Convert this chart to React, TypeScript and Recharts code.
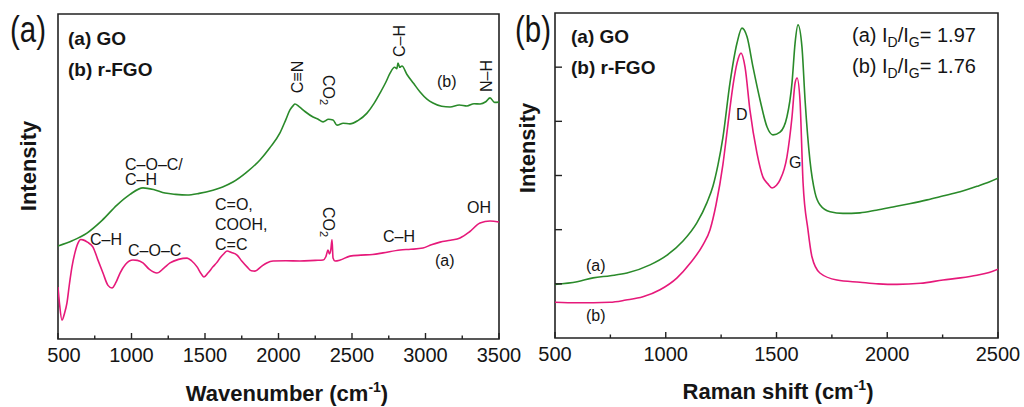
import React from "react";
import { LineChart, Line, XAxis, YAxis, ReferenceArea } from "recharts";

const FONT = '"Liberation Sans", Arial, Helvetica, sans-serif';
const GREEN = "#2a8a2a";
const PINK = "#e6197a";
const AXIS = "#222222";
const TEXT = "#151515";

// (a) FTIR, GO
const ftirGoWavenumber = [
  500, 510, 527, 545, 561, 578, 595, 615, 636, 655, 670, 700, 738, 770, 806, 840, 867, 895, 922, 960,
  1010, 1040, 1078, 1120, 1173, 1220, 1262, 1320, 1378, 1410, 1446, 1475, 1493, 1520, 1554, 1580, 1602,
  1630, 1650, 1680, 1718, 1750, 1786, 1815, 1840, 1880, 1920, 1963, 2050, 2146, 2250, 2303, 2322, 2337,
  2346, 2356, 2364, 2371, 2384, 2420, 2486, 2560, 2640, 2711, 2827, 2900, 2983, 3040, 3099, 3170, 3235,
  3300, 3371, 3439, 3500,
];
const ftirGoIntensity = [
  16.0, 11.0, 5.8, 8.0, 11.1, 17.0, 22.2, 26.5, 29.5, 30.6, 30.5, 29.8, 28.3, 24.5, 20.3, 16.5, 15.7, 17.5,
  20.3, 23.0, 24.3, 24.2, 23.4, 21.5, 20.3, 21.8, 23.4, 24.5, 24.9, 24.0, 22.2, 20.0, 19.1, 20.3, 22.2,
  23.5, 24.9, 26.3, 27.1, 26.6, 25.8, 24.0, 22.2, 21.0, 20.9, 22.2, 23.4, 24.0, 24.1, 24.0, 24.2, 24.3,
  25.3, 27.4, 26.2, 27.5, 30.5, 24.9, 24.0, 24.3, 25.5, 25.8, 26.0, 26.5, 27.4, 27.6, 28.0, 29.0, 29.8,
  30.4, 31.1, 33.0, 35.7, 36.3, 36.0,
];

// (a) FTIR, r-FGO
const ftirRfgoWavenumber = [
  500, 600, 697, 800, 901, 990, 1078, 1150, 1228, 1300, 1378, 1460, 1554, 1620, 1690, 1780, 1874, 1940,
  2010, 2050, 2078, 2100, 2112, 2140, 2180, 2235, 2270, 2303, 2340, 2371, 2398, 2440, 2486, 2540, 2602,
  2650, 2691, 2730, 2759, 2790, 2805, 2813, 2825, 2840, 2874, 2920, 2963, 3010, 3051, 3110, 3167, 3230,
  3282, 3330, 3371, 3410, 3439, 3470, 3500,
];
const ftirRfgoIntensity = [
  28.6, 30.3, 32.6, 36.5, 41.2, 44.5, 46.5, 46.0, 44.9, 44.5, 44.3, 44.8, 45.8, 46.8, 48.3, 51.2, 55.1,
  58.8, 63.4, 67.5, 70.5, 71.8, 72.3, 71.5, 70.0, 68.3, 67.6, 66.8, 67.6, 67.4, 65.8, 66.4, 66.2, 67.2,
  69.5, 72.5, 75.7, 79.0, 81.8, 83.6, 83.2, 84.9, 83.6, 84.0, 81.4, 78.6, 76.0, 73.8, 72.6, 71.6, 71.4,
  72.0, 71.7, 72.4, 72.3, 73.0, 74.2, 72.8, 72.9,
];

// (b) Raman, GO
const ramanGoShift = [
  500, 600, 672, 750, 825, 929, 1006, 1078, 1141, 1186, 1213, 1236, 1258, 1290, 1322, 1344, 1367, 1394,
  1426, 1457, 1484, 1516, 1547, 1570, 1584, 1597, 1615, 1629, 1651, 1674, 1696, 1742, 1800, 1877, 1950,
  2026, 2100, 2180, 2250, 2329, 2405, 2460, 2500,
];
const ramanGoIntensity = [
  0.99, 1.04, 1.11, 1.15, 1.2, 1.35, 1.53, 1.79, 2.13, 2.5, 2.8, 3.2, 3.7, 4.71, 5.45, 5.72, 5.56, 5.0,
  4.39, 3.9, 3.75, 3.8, 4.08, 4.71, 5.45, 5.78, 5.37, 4.39, 3.28, 2.68, 2.46, 2.33, 2.3, 2.31, 2.36, 2.42,
  2.48, 2.55, 2.62, 2.7, 2.8, 2.88, 2.95,
];

// (b) Raman, r-FGO
const ramanRfgoShift = [
  500, 600, 748, 820, 897, 974, 1051, 1110, 1168, 1200, 1227, 1258, 1275, 1290, 1305, 1322, 1340, 1358,
  1380, 1412, 1439, 1460, 1480, 1500, 1516, 1547, 1570, 1584, 1593, 1606, 1620, 1642, 1660, 1696, 1773,
  1877, 1960, 2044, 2150, 2252, 2330, 2405, 2460, 2500,
];
const ramanRfgoIntensity = [
  0.66, 0.65, 0.66, 0.7, 0.76, 0.89, 1.11, 1.38, 1.72, 2.0, 2.46, 3.2, 3.75, 4.25, 4.7, 5.08, 5.26, 5.0,
  4.21, 3.41, 2.97, 2.85, 2.77, 2.82, 2.92, 3.34, 4.08, 4.71, 4.8, 4.39, 2.86, 2.0, 1.5, 1.2, 1.07, 1.03,
  1.0, 0.99, 1.01, 1.07, 1.11, 1.16, 1.21, 1.27,
];

const ftirTicks = [500, 750, 1000, 1250, 1500, 1750, 2000, 2250, 2500, 2750, 3000, 3250, 3500];
const ramanTicks = [500, 750, 1000, 1250, 1500, 1750, 2000, 2250, 2500];
const ramanYTicks = [1, 2, 3, 4, 5];

const zip = (xs: number[], ys: number[]) => xs.map((x, i) => ({ x, y: ys[i] }));

const ftirGo = zip(ftirGoWavenumber, ftirGoIntensity);
const ftirRfgo = zip(ftirRfgoWavenumber, ftirRfgoIntensity);
const ramanGo = zip(ramanGoShift, ramanGoIntensity);
const ramanRfgo = zip(ramanRfgoShift, ramanRfgoIntensity);

// inward ticks on the bottom axis, labels on every 500
const makeXTick = (firstShift: number) => (props: any) => {
  const { x, y, payload } = props;
  const v = payload.value as number;
  const major = v % 500 === 0;
  return (
    <g>
      <line x1={x} x2={x} y1={y} y2={y - (major ? 6 : 3.5)} stroke={AXIS} strokeWidth={1.4} />
      {major && (
        <text
          x={x + (v === 500 ? firstShift : 0)}
          y={y + 23}
          textAnchor="middle"
          fontSize={20}
          fontFamily={FONT}
          fill={TEXT}
        >
          {v}
        </text>
      )}
    </g>
  );
};

const YTick = (props: any) => {
  const { x, y } = props;
  return <line x1={x} x2={x + 7} y1={y} y2={y} stroke={AXIS} strokeWidth={1.4} />;
};

const T = ({ x, y, size = 16, bold = false, anchor = "start", children }: any) => (
  <text
    x={x}
    y={y}
    fontSize={size}
    fontWeight={bold ? "bold" : "normal"}
    textAnchor={anchor}
    fontFamily={FONT}
    fill={TEXT}
  >
    {children}
  </text>
);

const RT = ({ cx, cy, angle, size = 16, bold = false, children }: any) => (
  <text
    x={cx}
    y={cy}
    transform={`rotate(${angle} ${cx} ${cy})`}
    textAnchor="middle"
    dominantBaseline="central"
    fontSize={size}
    fontWeight={bold ? "bold" : "normal"}
    fontFamily={FONT}
    fill={TEXT}
  >
    {children}
  </text>
);

const CO2 = ({ cx, cy }: { cx: number; cy: number }) => (
  <RT cx={cx} cy={cy} angle={90}>
    CO
    <tspan fontSize={11} dy={4}>
      2
    </tspan>
  </RT>
);

const Ratio = ({ x, y, tag, value }: any) => (
  <text x={x} y={y} fontSize={20} fontFamily={FONT} fill={TEXT}>
    {tag} I
    <tspan fontSize={14} dy={5}>D</tspan>
    <tspan dy={-5}>/I</tspan>
    <tspan fontSize={14} dy={5}>G</tspan>
    <tspan dy={-5}>= {value}</tspan>
  </text>
);

const AxisTitle = ({ x, y, label }: any) => (
  <text x={x} y={y} textAnchor="middle" fontSize={22} fontWeight="bold" fontFamily={FONT} fill={TEXT}>
    {label} (cm
    <tspan fontSize={14} dy={-9}>-1</tspan>
    <tspan dy={9}>)</tspan>
  </text>
);

const PanelTag = ({ x, y, label }: any) => (
  <text x={x} y={y} fontSize={36} fontFamily={FONT} fill={TEXT} textLength={36} lengthAdjust="spacingAndGlyphs">
    {label}
  </text>
);

function FtirPanel() {
  // wider than its half so the "3500" label can run past the frame as in the original
  return (
    <LineChart width={540} height={407} margin={{ top: 14, right: 41, bottom: 38, left: 57 }}>
      <XAxis
        dataKey="x"
        type="number"
        domain={[500, 3500]}
        ticks={ftirTicks}
        interval={0}
        allowDataOverflow
        height={30}
        tickSize={0}
        tickMargin={0}
        axisLine={false}
        tickLine={false}
        tick={makeXTick(6)}
      />
      <YAxis type="number" domain={[0, 100]} width={1} tick={false} axisLine={false} tickLine={false} />
      <Line data={ftirRfgo} dataKey="y" type="monotone" stroke={GREEN} strokeWidth={1.6} dot={false} isAnimationActive={false} />
      <Line data={ftirGo} dataKey="y" type="monotone" stroke={PINK} strokeWidth={1.6} dot={false} isAnimationActive={false} />
      <ReferenceArea x1={500} x2={3500} y1={0} y2={100} fill="none" stroke={AXIS} strokeWidth={1.6} ifOverflow="visible" />

      <PanelTag x={10} y={42} label="(a)" />
      <RT cx={28} cy={166} angle={-90} size={22} bold>
        Intensity
      </RT>
      <AxisTitle x={287} y={401} label="Wavenumber" />

      <T x={68} y={45} size={19} bold>(a) GO</T>
      <T x={68} y={76} size={19} bold>(b) r-FGO</T>

      <T x={125} y={170}>C–O–C/</T>
      <T x={125} y={185}>C–H</T>
      <RT cx={297} cy={77} angle={-90}>C≡N</RT>
      <CO2 cx={328} cy={90} />
      <RT cx={399} cy={41} angle={-90}>C–H</RT>
      <T x={437} y={87}>(b)</T>
      <RT cx={486} cy={76} angle={-90}>N–H</RT>

      <T x={90} y={245}>C–H</T>
      <T x={128} y={256}>C–O–C</T>
      <T x={215} y={210}>C=O,</T>
      <T x={215} y={230}>COOH,</T>
      <T x={215} y={250}>C=C</T>
      <CO2 cx={328} cy={222} />
      <T x={383} y={242}>C–H</T>
      <T x={435} y={266}>(a)</T>
      <T x={467} y={213}>OH</T>
    </LineChart>
  );
}

function RamanPanel() {
  return (
    <LineChart width={512} height={407} margin={{ top: 13, right: 26, bottom: 39, left: 42 }}>
      <XAxis
        dataKey="x"
        type="number"
        domain={[500, 2500]}
        ticks={ramanTicks}
        interval={0}
        allowDataOverflow
        height={30}
        tickSize={0}
        tickMargin={0}
        axisLine={false}
        tickLine={false}
        tick={makeXTick(0)}
      />
      <YAxis
        type="number"
        domain={[0, 6]}
        ticks={ramanYTicks}
        interval={0}
        width={1}
        tickSize={0}
        tickMargin={0}
        axisLine={false}
        tickLine={false}
        tick={YTick}
      />
      <Line data={ramanGo} dataKey="y" type="monotone" stroke={GREEN} strokeWidth={1.6} dot={false} isAnimationActive={false} />
      <Line data={ramanRfgo} dataKey="y" type="monotone" stroke={PINK} strokeWidth={1.6} dot={false} isAnimationActive={false} />
      <ReferenceArea x1={500} x2={2500} y1={0} y2={6} fill="none" stroke={AXIS} strokeWidth={1.6} ifOverflow="visible" />

      <PanelTag x={3} y={42} label="(b)" />
      <RT cx={15} cy={148} angle={-90} size={22} bold>
        Intensity
      </RT>
      <AxisTitle x={266} y={399} label="Raman shift" />

      <T x={59} y={43} size={19} bold>(a) GO</T>
      <T x={59} y={74} size={19} bold>(b) r-FGO</T>
      <Ratio x={340} y={42} tag="(a)" value="1.97" />
      <Ratio x={340} y={73} tag="(b)" value="1.76" />

      <T x={224} y={120}>D</T>
      <T x={277} y={168}>G</T>
      <T x={74} y={271}>(a)</T>
      <T x={74} y={321}>(b)</T>
    </LineChart>
  );
}

export default function App() {
  return (
    <div style={{ position: "absolute", left: 0, top: 0, width: 1024, height: 407, background: "#fff", overflow: "hidden" }}>
      <div style={{ position: "absolute", left: 0, top: 0 }}>
        <FtirPanel />
      </div>
      <div style={{ position: "absolute", left: 512, top: 0 }}>
        <RamanPanel />
      </div>
    </div>
  );
}
